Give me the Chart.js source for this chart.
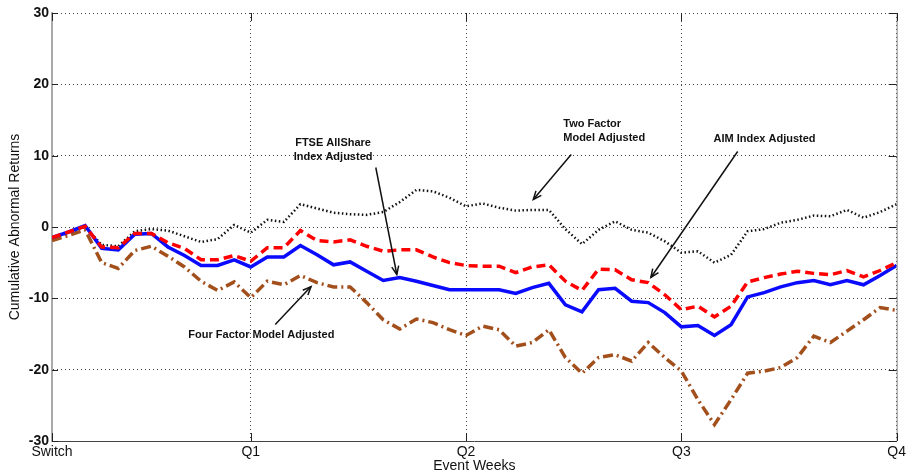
<!DOCTYPE html>
<html>
<head>
<meta charset="utf-8">
<script src="https://cdn.jsdelivr.net/npm/chart.js@4.4.1/dist/chart.umd.min.js"></script>
<style>
    html, body { margin: 0; padding: 0; background: #fff; }
    #wrap { width: 909px; height: 475px; }
</style>
</head>
<body>
<div id="wrap"><canvas id="chart" width="909" height="475"></canvas></div>
<script>
// event weeks 1..52, quarter ticks
const weeks = Array.from({ length: 52 }, (_, i) => i + 1);
const tickWeeks = [1, 13, 26, 39, 52];
const tickLabels = ['Switch', 'Q1', 'Q2', 'Q3', 'Q4'];

const ftseAdjusted = [-1.5, -0.7, 0.2, -3.0, -3.2, -1.0, -0.9, -2.8, -4.0, -5.4,
    -5.4, -4.6, -5.6, -4.2, -4.2, -2.6, -3.9, -5.3, -4.9, -6.2,
    -7.5, -7.1, -7.6, -8.2, -8.8, -8.8, -8.8, -8.8, -9.3, -8.5,
    -7.9, -10.9, -11.9, -8.8, -8.6, -10.4, -10.6, -12.0, -14.0, -13.8,
    -15.2, -13.7, -9.8, -9.2, -8.4, -7.8, -7.5, -8.1, -7.5, -8.1,
    -6.8, -5.4];
const aimAdjusted = [-1.5, -0.7, 0.1, -2.8, -2.9, -0.9, -0.9, -2.2, -3.0, -4.6,
    -4.6, -4.0, -4.8, -2.9, -2.9, -0.5, -1.9, -2.1, -1.8, -2.7,
    -3.4, -3.2, -3.2, -4.2, -5.0, -5.4, -5.5, -5.5, -6.4, -5.6,
    -5.3, -7.6, -8.9, -5.9, -6.0, -7.4, -7.8, -9.5, -11.6, -11.1,
    -12.6, -11.1, -7.7, -7.1, -6.6, -6.2, -6.5, -6.7, -6.1, -7.0,
    -6.1, -5.0];
const fourFactor = [-1.9, -1.2, -0.4, -5.0, -5.8, -3.3, -2.7, -4.1, -5.6, -7.6,
    -8.9, -7.7, -9.9, -7.6, -8.1, -6.8, -7.8, -8.4, -8.4, -10.6,
    -13.0, -14.3, -12.9, -13.4, -14.4, -15.2, -13.9, -14.4, -16.7, -16.2,
    -14.4, -18.3, -20.5, -18.3, -17.9, -18.8, -16.2, -18.3, -20.2, -24.2,
    -27.7, -24.2, -20.5, -20.2, -19.7, -18.3, -15.3, -16.2, -14.6, -13.0,
    -11.3, -11.7];
const twoFactor = [-1.5, -0.8, 0.0, -2.5, -2.7, -0.6, -0.3, -0.5, -1.3, -2.1,
    -1.7, 0.3, -0.8, 1.0, 0.7, 3.2, 2.6, 2.0, 1.8, 1.7,
    2.1, 3.5, 5.2, 5.0, 4.1, 2.9, 3.3, 2.7, 2.3, 2.4,
    2.4, -0.3, -2.4, -0.4, 0.8, -0.4, -0.8, -2.0, -3.6, -3.4,
    -5.0, -3.9, -0.6, -0.3, 0.6, 1.0, 1.6, 1.5, 2.4, 1.3,
    2.1, 3.2];

// text labels with arrows, placed in data units (week, return)
const notes = [
    { lines: ['FTSE AllShare', 'Index Adjusted'], at: [17.97, 11.85], align: 'center', from: [20.55, 8.34], to: [21.82, -6.66] },
    { lines: ['Two Factor', 'Model Adjusted'], at: [31.87, 14.38], align: 'left', from: [32.35, 10.17], to: [30.06, 3.86] },
    { lines: ['AIM Index Adjusted'], at: [44.02, 12.31], align: 'center', from: [42.4, 10.59], to: [37.16, -7.08] },
    { lines: ['Four Factor Model Adjusted'], at: [13.64, -15.08], align: 'center', from: [14.48, -13.67], to: [16.64, -8.35] }
];

const pts = (vals) => vals.map((v, i) => ({ x: weeks[i], y: v }));

const frame = {
    id: 'frame',
    afterDatasetsDraw(chart) {
        const { ctx, chartArea: a, scales } = chart;
        ctx.save();
        ctx.lineWidth = 1;
        // right edge
        ctx.strokeStyle = '#888';
        ctx.beginPath();
        ctx.moveTo(a.right + 0.5, a.top);
        ctx.lineTo(a.right + 0.5, a.bottom);
        ctx.stroke();
        // inward tick marks
        ctx.strokeStyle = '#222';
        scales.y.ticks.forEach(t => {
            const y = Math.round(scales.y.getPixelForValue(t.value)) + 0.5;
            ctx.beginPath();
            ctx.moveTo(a.left, y); ctx.lineTo(a.left + 6, y);
            ctx.moveTo(a.right, y); ctx.lineTo(a.right - 8, y);
            ctx.stroke();
        });
        tickWeeks.forEach(w => {
            const x = Math.round(scales.x.getPixelForValue(w)) + 0.5;
            ctx.beginPath();
            ctx.moveTo(x, a.top); ctx.lineTo(x, a.top + 8);
            ctx.moveTo(x, a.bottom); ctx.lineTo(x, a.bottom - 8);
            ctx.stroke();
        });
        ctx.restore();
    }
};

const arrows = {
    id: 'arrows',
    afterDatasetsDraw(chart) {
        const { ctx, scales } = chart;
        const px = (p) => [scales.x.getPixelForValue(p[0]), scales.y.getPixelForValue(p[1])];
        ctx.save();
        ctx.font = 'bold 11px "Liberation Sans", Arial, sans-serif';
        ctx.fillStyle = '#111';
        ctx.textBaseline = 'middle';
        notes.forEach(n => {
            const [tx, ty] = px(n.at);
            ctx.textAlign = n.align;
            n.lines.forEach((s, i) => ctx.fillText(s, tx, ty + i * 14));
            const [x1, y1] = px(n.from);
            const [x2, y2] = px(n.to);
            ctx.strokeStyle = '#111';
            ctx.lineWidth = 1.5;
            ctx.beginPath();
            ctx.moveTo(x1, y1);
            ctx.lineTo(x2, y2);
            ctx.stroke();
            const ang = Math.atan2(y2 - y1, x2 - x1);
            const h = 9;
            ctx.beginPath();
            ctx.moveTo(x2 - h * Math.cos(ang - 0.4), y2 - h * Math.sin(ang - 0.4));
            ctx.lineTo(x2, y2);
            ctx.lineTo(x2 - h * Math.cos(ang + 0.4), y2 - h * Math.sin(ang + 0.4));
            ctx.stroke();
        });
        ctx.restore();
    }
};

const ctx = document.getElementById('chart').getContext('2d');
new Chart(ctx, {
    type: 'line',
    data: {
        datasets: [
            {
                label: 'AIM Index Adjusted',
                data: pts(aimAdjusted),
                borderColor: '#ff0000',
                borderWidth: 3.5,
                borderDash: [9, 5]
            },
            {
                label: 'FTSE AllShare Index Adjusted',
                data: pts(ftseAdjusted),
                borderColor: '#0a0aff',
                borderWidth: 3.5
            },
            {
                label: 'Four Factor Model Adjusted',
                data: pts(fourFactor),
                borderColor: '#a24f1c',
                borderWidth: 3.5,
                borderDash: [10, 4, 2, 4]
            },
            {
                label: 'Two Factor Model Adjusted',
                data: pts(twoFactor),
                borderColor: '#111',
                borderWidth: 2.5,
                borderDash: [1.5, 2.5]
            }
        ]
    },
    options: {
        responsive: false,
        animation: false,
        layout: { padding: { top: 13, right: 9, left: 0, bottom: 0 } },
        elements: {
            point: { radius: 0 },
            line: { tension: 0, fill: false, borderCapStyle: 'butt' }
        },
        plugins: {
            legend: { display: false },
            tooltip: { enabled: false }
        },
        scales: {
            x: {
                type: 'linear',
                min: 1,
                max: 52,
                afterBuildTicks: (scale) => { scale.ticks = tickWeeks.map(v => ({ value: v })); },
                afterFit: (scale) => { scale.height = 34; },
                ticks: {
                    autoSkip: false,
                    maxRotation: 0,
                    padding: 3,
                    color: '#111',
                    font: { family: '"Liberation Sans", Arial, sans-serif', size: 14 },
                    callback: (v) => tickLabels[tickWeeks.indexOf(v)]
                },
                grid: { color: '#444', lineWidth: 1, drawTicks: false },
                border: { display: true, color: '#444', width: 1, dash: [1, 3] },
                title: {
                    display: true,
                    text: 'Event Weeks',
                    color: '#111',
                    padding: { top: 0, bottom: 0 },
                    font: { family: '"Liberation Sans", Arial, sans-serif', size: 14 }
                }
            },
            y: {
                min: -30,
                max: 30,
                afterFit: (scale) => { scale.width = 52; },
                ticks: {
                    stepSize: 10,
                    padding: 3,
                    color: '#111',
                    font: { family: '"Liberation Sans", Arial, sans-serif', size: 14, weight: 'bold' }
                },
                grid: { color: '#444', lineWidth: 1, drawTicks: false },
                border: { display: true, color: '#aaa', width: 2, dash: [1, 3] },
                title: {
                    display: true,
                    text: 'Cumulative Abnormal Returns',
                    color: '#111',
                    padding: { top: 7, bottom: 0 },
                    font: { family: '"Liberation Sans", Arial, sans-serif', size: 14 }
                }
            }
        }
    },
    plugins: [frame, arrows]
});
</script>
</body>
</html>
